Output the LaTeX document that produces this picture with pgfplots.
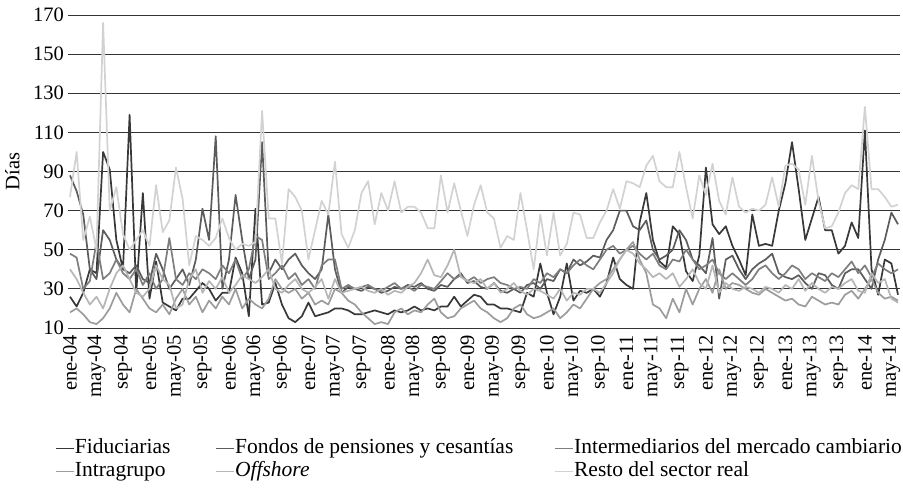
\documentclass[border=0pt]{standalone}
\usepackage{fontspec}
\setmainfont{Liberation Serif}
\usepackage{pgfplots}
\usepackage{pgfplotstable}
\pgfplotsset{compat=1.18}
\definecolor{cFid}{HTML}{383838}
\definecolor{cFon}{HTML}{5C5C5C}
\definecolor{cInt}{HTML}{7E7E7E}
\definecolor{cIntra}{HTML}{9C9C9C}
\definecolor{cOff}{HTML}{B6B6B6}
\definecolor{cRes}{HTML}{D2D2D2}

\pgfplotstableread{
i fid fon int intra off resto
0 26 88 48 18 40 77
1 21 80 46 20 35 100
2 28 68 30 17 28 55
3 40 40 34 13 22 67
4 38 35 54 12 26 50
5 100 60 35 15 20 166
6 91 55 38 20 30 70
7 55 45 45 28 38 82
8 40 40 38 22 42 58
9 119 38 35 18 35 50
10 28 42 40 30 28 55
11 79 35 32 25 26 60
12 25 33 38 20 30 52
13 44 48 30 18 42 83
14 23 40 35 22 35 59
15 21 30 56 17 32 65
16 19 35 35 25 20 92
17 25 40 32 30 22 76
18 25 32 38 22 35 42
19 29 45 35 26 40 57
20 33 71 40 18 28 55
21 30 55 38 24 34 52
22 24 108 35 20 30 56
23 28 30 42 26 36 66
24 28 45 38 22 28 56
25 46 78 45 30 32 50
26 38 55 35 20 37 53
27 16 35 40 25 35 52
28 71 45 57 22 33 54
29 22 105 55 20 36 121
30 23 38 35 25 40 66
31 33 45 38 35 30 66
32 22 40 42 30 28 43
33 15 45 35 28 32 81
34 13 48 38 30 35 77
35 16 42 32 25 30 70
36 23 38 35 28 28 45
37 16 35 30 22 31 60
38 17 40 42 24 35 75
39 18 68 45 22 25 68
40 20 40 45 30 35 95
41 20 28 30 28 28 58
42 19 31 32 24 29 51
43 17 30 30 22 30 60
44 17 29 31 18 31 79
45 18 31 32 15 29 85
46 19 30 30 12 28 63
47 18 28 29 13 30 79
48 17 29 31 12 27 70
49 19 31 33 18 29 85
50 18 30 30 20 28 69
51 19 32 31 17 31 72
52 21 31 29 19 33 72
53 19 33 32 18 38 69
54 20 30 31 22 45 61
55 19 29 30 25 37 61
56 21 32 34 18 36 88
57 21 31 38 15 42 69
58 26 35 35 16 50 84
59 21 38 37 20 36 70
60 24 33 34 22 34 57
61 27 34 36 24 33 73
62 26 31 33 20 35 83
63 22 30 35 18 30 69
64 22 33 36 15 33 66
65 20 29 33 13 28 51
66 20 28 32 15 30 57
67 19 30 30 20 33 55
68 18 28 31 22 29 79
69 28 32 30 17 27 60
70 26 33 35 15 30 40
71 43 30 33 16 29 68
72 28 35 38 18 27 47
73 17 34 36 20 25 69
74 26 40 40 15 30 47
75 43 38 38 18 24 53
76 24 45 42 22 28 69
77 29 42 45 20 27 68
78 28 44 42 25 30 56
79 30 47 40 30 30 56
80 26 46 45 33 28 64
81 33 55 50 35 33 70
82 46 60 52 40 38 81
83 35 70 48 45 45 71
84 32 70 50 50 50 85
85 30 62 52 54 48 84
86 64 60 48 45 43 82
87 79 65 45 38 40 93
88 55 50 48 22 36 98
89 44 45 42 20 38 85
90 41 47 40 15 35 82
91 62 50 45 25 38 82
92 58 60 44 18 31 100
93 39 55 50 30 35 82
94 34 45 45 22 40 66
95 47 42 40 30 33 88
96 92 38 42 35 30 78
97 63 56 45 28 42 94
98 58 25 38 40 28 75
99 62 45 35 30 33 68
100 52 47 38 33 30 87
101 45 40 35 32 29 72
102 37 35 32 30 31 69
103 68 40 35 28 30 71
104 52 43 40 27 28 70
105 53 45 42 30 31 73
106 52 48 38 28 30 87
107 70 38 35 26 28 72
108 84 36 38 24 32 93
109 105 35 42 25 30 94
110 81 37 40 22 35 91
111 55 33 35 21 29 73
112 66 30 38 26 33 98
113 77 38 36 24 30 75
114 60 37 34 22 28 61
115 60 32 38 23 31 62
116 48 30 36 22 30 69
117 52 38 40 27 33 79
118 64 40 44 29 35 83
119 56 40 38 25 29 81
120 111 35 42 30 28 123
121 40 30 36 35 38 81
122 27 45 43 28 33 81
123 45 55 40 25 35 77
124 43 69 38 26 25 72
125 27 63 40 24 23 73
}\datatable

\begin{document}
\fontsize{20}{24}\selectfont
\begin{tikzpicture}
\useasboundingbox (-68pt,-162pt) rectangle (835pt,328pt);
\begin{axis}[
  scale only axis,
  width=832pt, height=313pt,
  at={(0pt,0pt)}, anchor=south west,
  xmin=-0.3, xmax=125.3, ymin=10, ymax=170,
  ytick={10,30,...,170},
  xtick={0,4,...,124},
  xticklabels={ene-04,may-04,sep-04,ene-05,may-05,sep-05,ene-06,may-06,sep-06,ene-07,may-07,sep-07,ene-08,may-08,sep-08,ene-09,may-09,sep-09,ene-10,may-10,sep-10,ene-11,may-11,sep-11,ene-12,may-12,sep-12,ene-13,may-13,sep-13,ene-14,may-14},
  xticklabel style={rotate=90, anchor=east, inner sep=0pt},
  xticklabel shift=7pt,
  yticklabel style={inner sep=0pt},
  yticklabel shift=4pt,
  /pgf/number format/assume math mode=true,
  tick label style={font=\fontsize{20.5}{24}\selectfont},
  label style={font=\fontsize{20.5}{24}\selectfont},
  ymajorgrids,
  major grid style={line width=0.9pt, color=black!80},
  axis line style={draw=none},
  major tick length=0pt,
  ylabel={Días},
  ylabel style={at={(axis description cs:-0.067,0.5)}, anchor=center},
  every axis plot/.append style={line width=1.7pt, line join=round, no markers},
  legend columns=3,
  legend cell align=left,
  legend image code/.code={\draw[#1] (0pt,0pt) -- (18pt,0pt);},
  legend style={draw=none, fill=none, at={(-0.0156,-0.348)}, anchor=north west,
    inner sep=0pt, font=\fontsize{21.5}{24}\selectfont,
    nodes={inner ysep=0.5pt, inner xsep=0pt, text height=16pt, text depth=6pt},
    /tikz/column 2/.style={column sep=45pt},
    /tikz/column 4/.style={column sep=41pt},
    row sep=0pt},
]
\addplot[cFid] table[x=i, y=fid] {\datatable};
\addlegendentry{Fiduciarias}
\addplot[cFon] table[x=i, y=fon] {\datatable};
\addlegendentry{Fondos de pensiones y cesantías}
\addplot[cInt] table[x=i, y=int] {\datatable};
\addlegendentry{Intermediarios del mercado cambiario}
\addplot[cIntra] table[x=i, y=intra] {\datatable};
\addlegendentry{Intragrupo}
\addplot[cOff] table[x=i, y=off] {\datatable};
\addlegendentry{\textit{Offshore}}
\addplot[cRes] table[x=i, y=resto] {\datatable};
\addlegendentry{Resto del sector real}
\end{axis}
\end{tikzpicture}
\end{document}
